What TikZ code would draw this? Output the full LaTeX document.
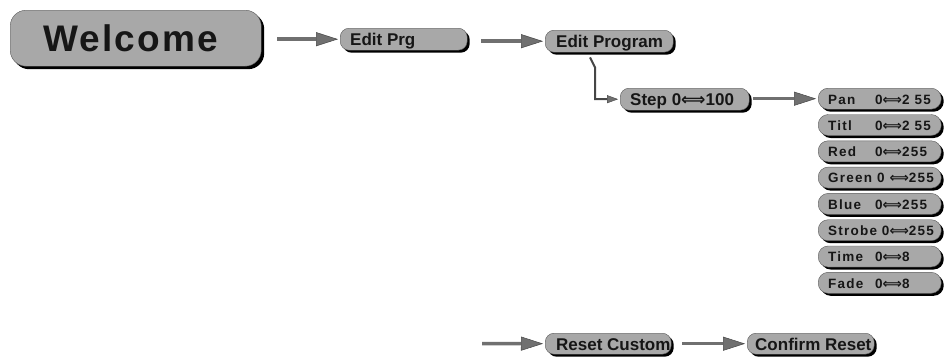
\documentclass[tikz,border=0pt]{standalone}
\usepackage{fontspec}
\setmainfont{Liberation Sans}
\newfontfamily\symf{DejaVu Sans}
\usetikzlibrary{arrows.meta,shadows}
\definecolor{boxgray}{RGB}{168,168,168}
\definecolor{arrgray}{RGB}{112,112,112}
\definecolor{arrdark}{RGB}{70,70,70}
\definecolor{txt}{RGB}{22,22,22}
\newcommand{\lrarr}{{\symf ⟺}}
\newcommand{\lbox}[2]{\makebox[#1][l]{#2}}
\begin{document}
\begin{tikzpicture}[x=1pt,y=-1pt,
  pill/.style={fill=boxgray, draw=black!65, line width=0.4pt, rounded corners=9pt,
    anchor=north west, inner ysep=0pt, text=txt,
    font=\fontsize{17}{17}\selectfont\bfseries,
    drop shadow={shadow xshift=2.5pt, shadow yshift=-2.5pt, opacity=1, fill=black}},
  midbox/.style={pill, minimum height=22pt, inner xsep=10pt, text height=13pt, text depth=0pt},
  subbox/.style={pill, rounded corners=10pt, minimum height=21pt, inner xsep=10pt, text height=10.7pt, text depth=0pt,
    font=\fontsize{13.5}{13.5}\selectfont\bfseries\addfontfeature{LetterSpace=9}},
  arr/.style={draw=arrgray, line width=3.5pt, shorten >=2pt,
    -{Triangle[length=22pt,width=14pt,line width=0.5pt,color=arrdark,fill=arrgray]}},
  conn/.style={draw=arrdark, line width=2pt, shorten >=2pt,
    -{Triangle[length=11pt,width=8pt,line width=0.4pt,color=arrdark,fill=arrgray]}}
]
\useasboundingbox (0,0) rectangle (944,359);

\node[pill, rounded corners=16pt, minimum width=251pt, minimum height=56pt,
  text height=27.5pt, text depth=0pt,
  font=\fontsize{37}{37}\selectfont\bfseries\addfontfeature{LetterSpace=5.5},
  drop shadow={shadow xshift=3pt, shadow yshift=-3pt, opacity=1, fill=black}]
  (welcome) at (10,10) {\makebox[240pt][c]{Welcome\hspace{10pt}}};

\node[midbox] (editprg) at (340,28) {\lbox{107pt}{Edit Prg}};
\node[midbox, inner xsep=11pt] (editprogram) at (545,30) {\lbox{106pt}{Edit Program}};
\node[midbox, text height=12.2pt] (step) at (620,88) {\lbox{109pt}{Step 0\lrarr100}};

\node[subbox] (pan)    at (818,88.0)  {\lbox{103pt}{\lbox{47pt}{Pan}0\lrarr2 55}};
\node[subbox] (titl)   at (818,114.3) {\lbox{103pt}{\lbox{47pt}{Titl}0\lrarr2 55}};
\node[subbox] (red)    at (818,140.6) {\lbox{103pt}{\lbox{47pt}{Red}0\lrarr255}};
\node[subbox] (green)  at (818,166.9) {\lbox{103pt}{Green 0 \lrarr255}};
\node[subbox] (blue)   at (818,193.2) {\lbox{103pt}{\lbox{47pt}{Blue}0\lrarr255}};
\node[subbox] (strobe) at (818,219.5) {\lbox{103pt}{Strobe 0\lrarr255}};
\node[subbox] (time)   at (818,245.8) {\lbox{103pt}{\lbox{47pt}{Time}0\lrarr8}};
\node[subbox] (fade)   at (818,272.1) {\lbox{103pt}{\lbox{47pt}{Fade}0\lrarr8}};

\node[midbox, minimum height=21pt, inner xsep=11pt] (resetc) at (545,333) {\lbox{104pt}{Reset Custom}};
\node[midbox, minimum height=21pt, inner xsep=8pt] (confirm) at (747,333) {\lbox{111pt}{Confirm Reset}};

\draw[arr] ([xshift=16pt]welcome.east |- editprg.west) -- (editprg.west);
\draw[arr] ([xshift=14pt]editprg.east |- editprogram.west) -- (editprogram.west);
\draw[conn] ([shift={(45,5)}]editprogram.south west) -- ++(5,10) |- (step.west);
\draw[arr] ([xshift=4pt]step.east |- pan.west) -- (pan.west);
\coordinate (rsin) at (482,343.5);
\draw[arr] (rsin) -- (resetc.west);
\draw[arr] ([xshift=11pt]resetc.east) -- (confirm.west);
\end{tikzpicture}
\end{document}
